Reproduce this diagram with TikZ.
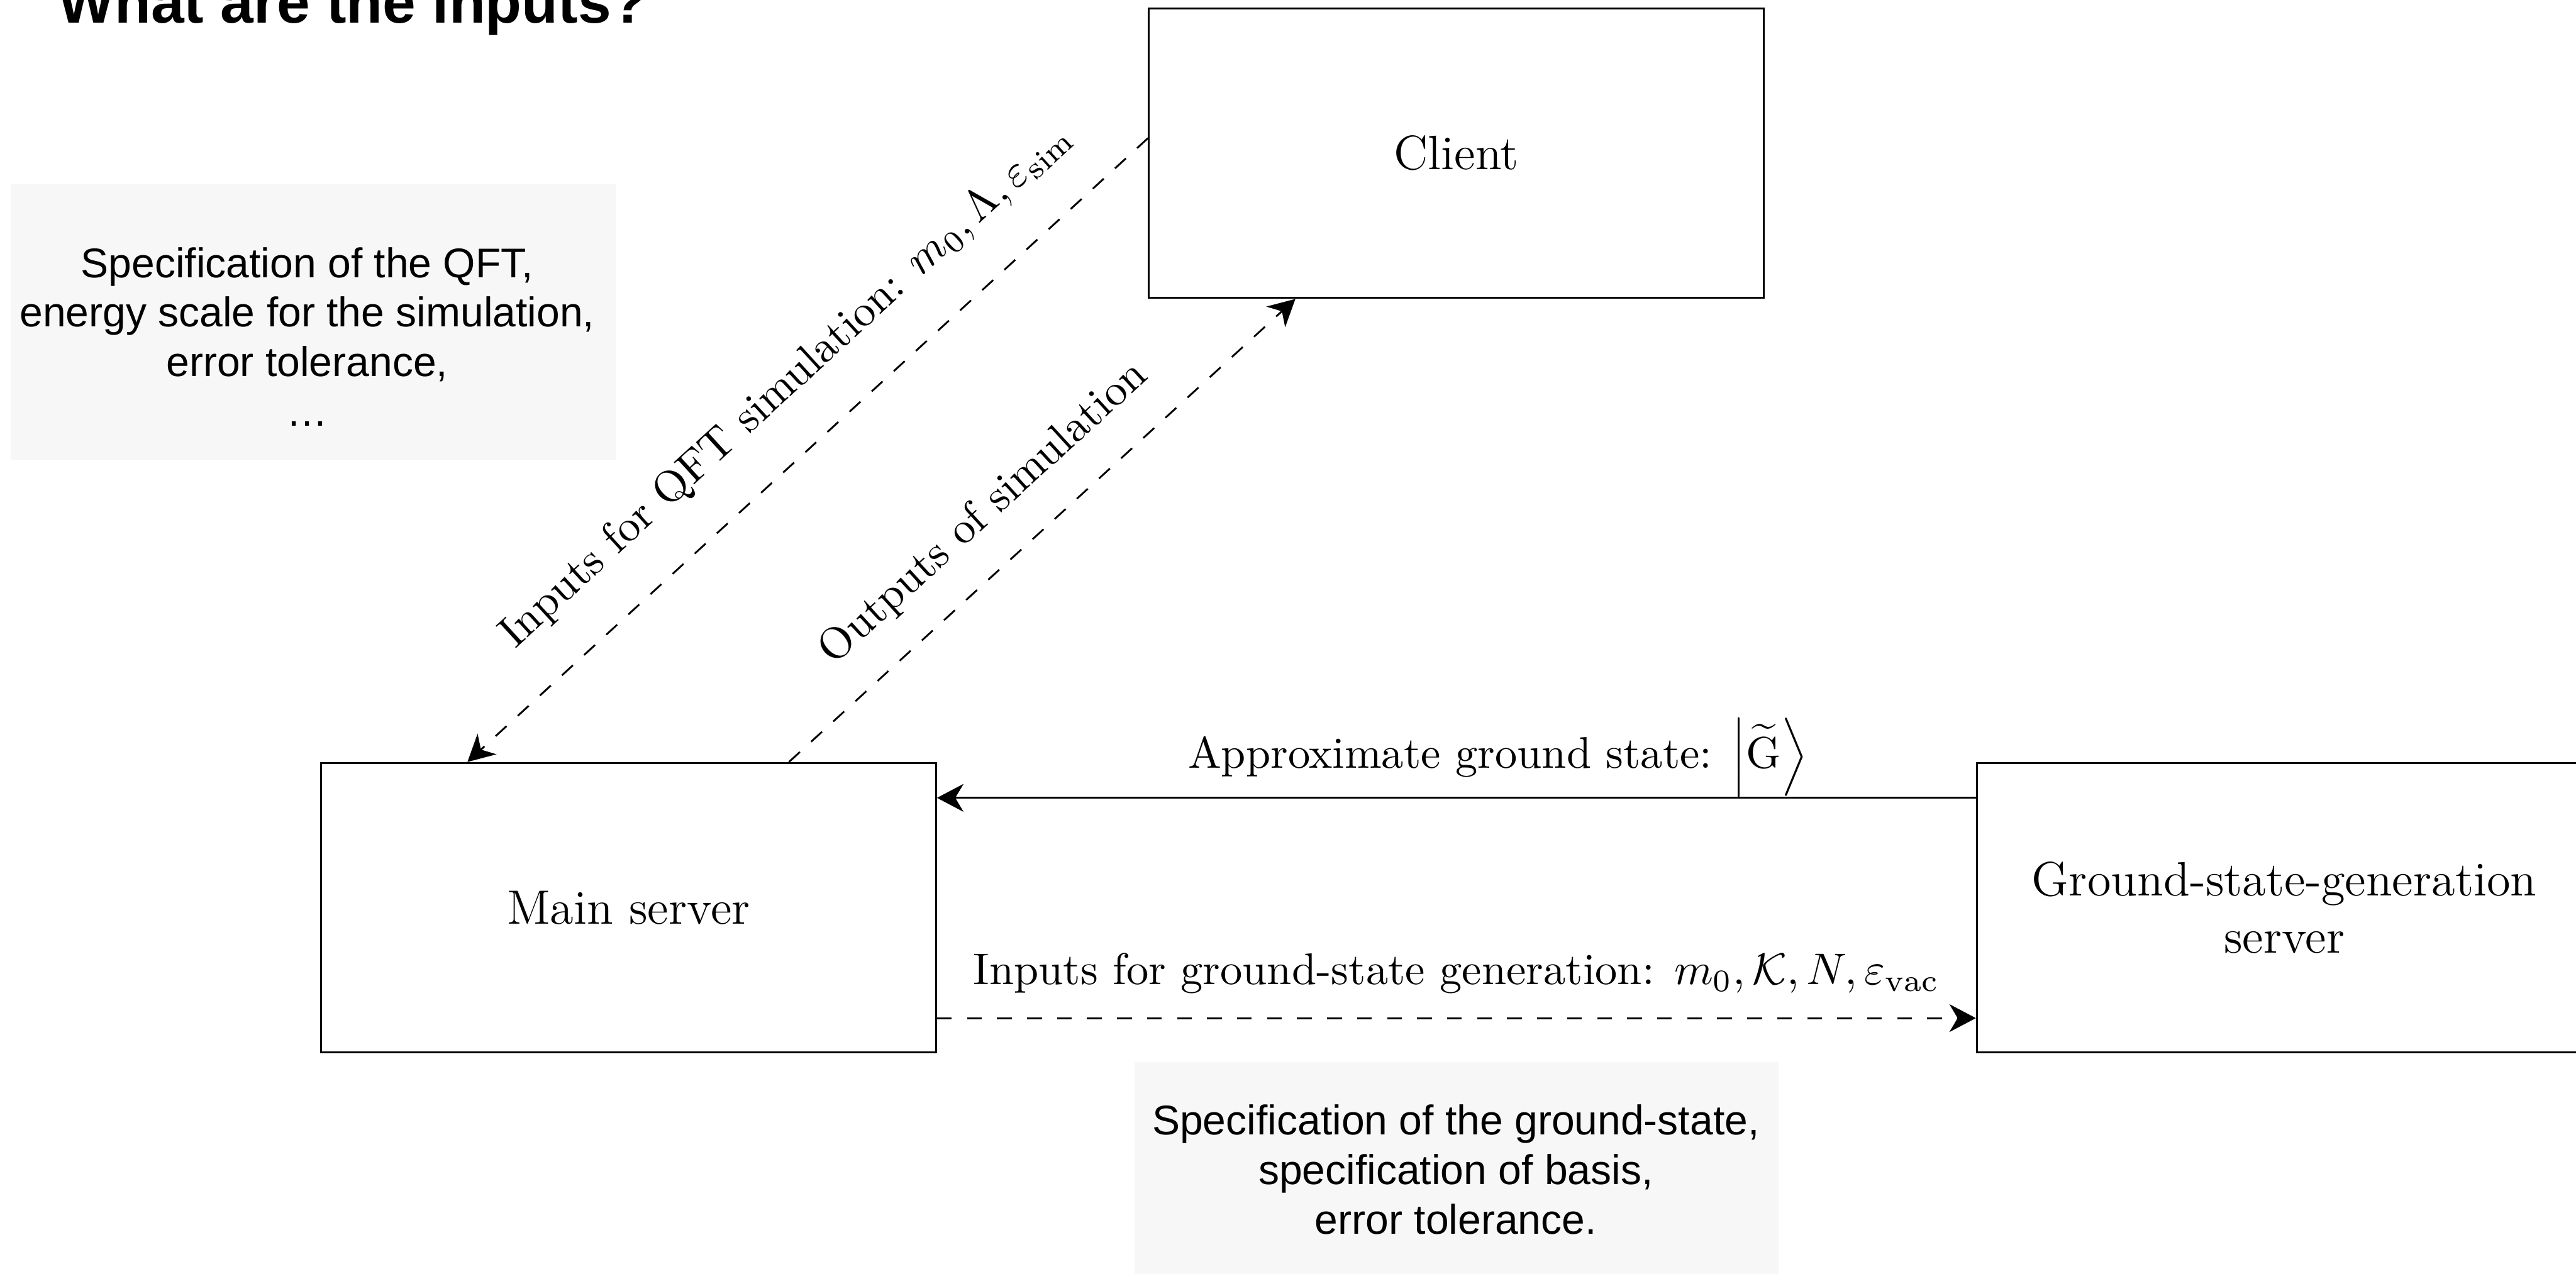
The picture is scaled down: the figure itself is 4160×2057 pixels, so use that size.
\documentclass[tikz,border=0pt]{standalone}
\usepackage{fix-cm}
\usepackage{fontspec}
\newfontfamily\notefont{Liberation Sans}
\usetikzlibrary{arrows.meta,calc}
\definecolor{notefill}{HTML}{F7F7F7}
\begin{document}
\begin{tikzpicture}[x=0.005cm,y=-0.005cm,
  box/.style={draw, line width=0.45pt, minimum width=4.97cm, minimum height=2.34cm,
    inner sep=2pt, align=center, font=\fontsize{11.1}{13.2}\selectfont},
  note/.style={fill=notefill, draw=none, minimum height=2.235cm, inner sep=0pt},
  notetext/.style={font=\notefont\fontsize{9.55}{11.4}\selectfont, align=center,
    inner sep=0pt, anchor=north},
  lbl/.style={font=\fontsize{10.2}{12}\selectfont, inner sep=0pt, anchor=base},
  link/.style={line width=0.42pt, -{Stealth[length=6.1pt,width=6.4pt,inset=1.9pt]}},
  dashlink/.style={link, dash pattern=on 3.4pt off 3.5pt},
]
\useasboundingbox (0,0) rectangle (4160,2057);
\clip (0,0) rectangle (4160,2057);

% title
\node[font=\notefont\bfseries\fontsize{13.7}{16}\selectfont, anchor=base west,
  inner sep=0pt] (title) at (93,37) {What are the inputs?};

% grey notes
\node[note, minimum width=4.895cm] (qftnote) at (506.5,520.5) {};
\node[notetext] (qfttext) at (496,398)
  {Specification of the QFT,\\energy scale for the simulation,\\error tolerance,\\…};
\node[note, minimum width=5.205cm] (gsnote) at (2352.5,1938.5) {};
\node[notetext] (gstext) at (2351,1783)
  {Specification of the ground-state,\\specification of basis,\\error tolerance.};

% parties
\node[box] (client) at (2352,247.5) {Client};
\node[box] (main) at (1015,1466) {Main server};
\node[box] (gs) at (3689,1466) {Ground-state-generation\\server};

% messages
\draw[dashlink] ($(client.north west)+(0,211)$) -- ($(main.north west)+(238,0)$);
\draw[dashlink] ($(main.north east)+(-239,0)$) -- ($(client.south west)+(238,0)$);
\draw[link] ($(gs.north west)+(0,58)$) -- ($(main.north east)+(0,58)$);
\draw[dashlink] ($(main.south east)+(0,-57)$) -- ($(gs.south west)+(0,-57)$);

% message labels
\node[lbl, rotate=42.5] (qftlbl) at (1282,636)
  {Inputs for QFT simulation: $m_0, \Lambda, \varepsilon_{\mathrm{sim}}$};
\node[lbl, rotate=42.4] (outlbl) at (1601,843) {Outputs of simulation};
\node[lbl] (gslbl) at (2419,1241)
  {Approximate ground state: $\left|\widetilde{\mathrm{G}}\right\rangle$};
\node[lbl] (inlbl) at (2352,1590)
  {Inputs for ground-state generation: $m_0, \mathcal{K}, N, \varepsilon_{\mathrm{vac}}$};
\end{tikzpicture}
\end{document}
